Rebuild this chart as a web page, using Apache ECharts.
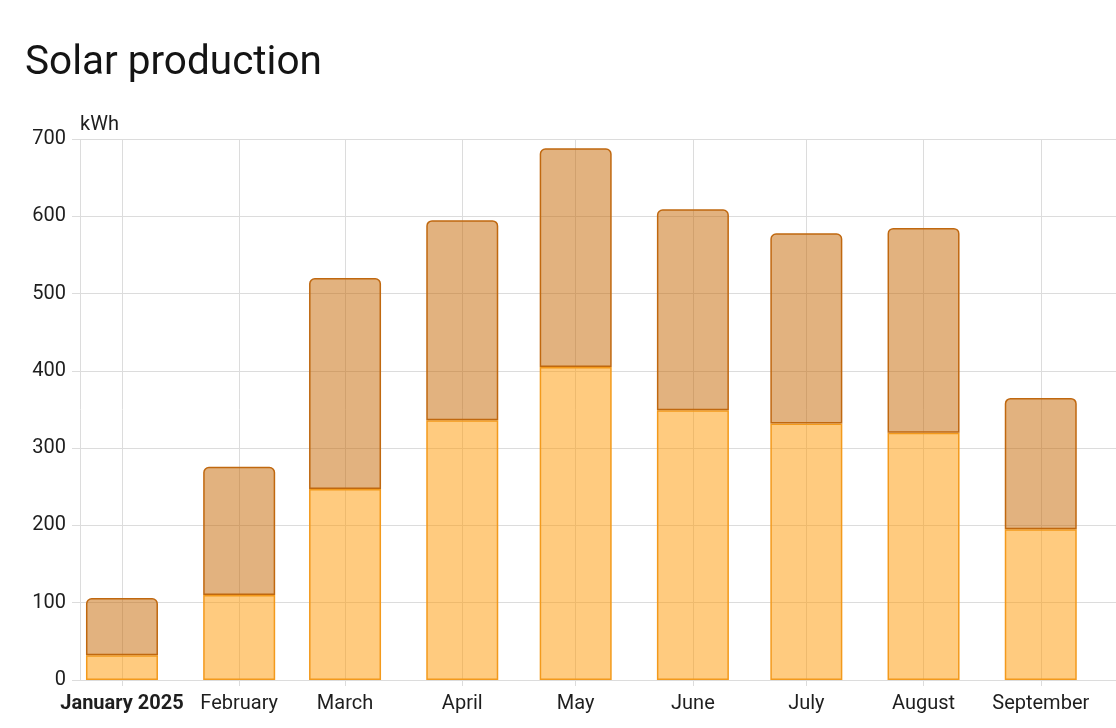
<!DOCTYPE html>
<html>
<head>
<meta charset="utf-8">
<script src="https://cdn.jsdelivr.net/npm/echarts@6/dist/echarts.min.js"></script>
<style>
html,body{margin:0;padding:0;background:#fff;}
#chart{width:1116px;height:728px;}
</style>
</head>
<body>
<div id="chart"></div>
<script>
// Data
const months = [
  [2025, 0], [2025, 1], [2025, 2], [2025, 3], [2025, 4],
  [2025, 5], [2025, 6], [2025, 7], [2025, 8]
];
const monthNames = ['January','February','March','April','May','June','July','August','September','October','November','December'];
const selfConsumed = [32, 110, 247, 336, 405, 349, 332, 320, 195];
const returned = [74, 166, 273, 259, 283, 260, 246, 265, 170];
const yTicks = { min: 0, max: 700, interval: 100 };
const unitName = 'kWh';
const titleText = 'Solar production';

const DAY = 86400000;
const xs = months.map(m => new Date(m[0], m[1], 1).getTime());
// desired visible range; ECharts widens a time axis carrying bars by the bar width,
// so the requested range is narrowed accordingly
const BAR_W = 72, GRID_W = 1036;
const wantMin = xs[0] - 11.1 * DAY;
const wantRange = 274 * DAY;
const reqRange = wantRange * (1 - BAR_W / GRID_W);
const xMin = wantMin + (wantRange - reqRange) / 2;
const xMax = xMin + reqRange;

const chart = echarts.init(document.getElementById('chart'), null, {renderer: 'canvas'});
const font = 'Roboto';
const txt = '#1e1e1e';
const gridCol = '#dcdcdc';
chart.setOption({
  animation: false,
  textStyle: { fontFamily: font },
  title: {
    text: titleText,
    left: 20, top: 38,
    textStyle: { fontFamily: font, fontSize: 40.5, fontWeight: 'normal', color: '#141414' }
  },
  grid: { left: 80, right: 0, top: 139, bottom: 48, containLabel: false, outerBoundsMode: 'none' },
  xAxis: {
    type: 'time',
    min: xMin, max: xMax,
    minInterval: 28 * DAY, maxInterval: 31 * DAY,
    axisLine: { show: true, lineStyle: { color: gridCol, width: 1 } },
    axisTick: { show: true, length: 6, lineStyle: { color: gridCol } },
    splitLine: { show: true, lineStyle: { color: gridCol, width: 1 } },
    axisLabel: {
      showMinLabel: false, showMaxLabel: false,
      margin: 14,
      fontSize: 20, color: txt, fontFamily: font,
      formatter: function (v) {
        const d = new Date(v);
        if (d.getDate() !== 1) return '';
        if (d.getMonth() === 0) return '{b|' + monthNames[0] + ' ' + d.getFullYear() + '}';
        return monthNames[d.getMonth()];
      },
      rich: { b: { fontWeight: 'bold', fontSize: 20, color: txt, fontFamily: font } }
    }
  },
  yAxis: {
    type: 'value',
    min: yTicks.min, max: yTicks.max, interval: yTicks.interval,
    name: unitName,
    nameLocation: 'end',
    nameGap: 4,
    nameTextStyle: { fontSize: 20, color: txt, fontFamily: font, align: 'left', padding: [0, 0, 0, 0] },
    axisLine: { show: false },
    axisTick: { show: true, length: 8, lineStyle: { color: gridCol } },
    axisLabel: { fontSize: 20, color: txt, fontFamily: font, margin: 14 },
    splitLine: { show: true, lineStyle: { color: gridCol, width: 1 } }
  },
  series: [
    {
      name: 'Self-consumed',
      type: 'bar',
      stack: 'solar',
      barWidth: BAR_W,
      data: xs.map((x, i) => [x, selfConsumed[i]]),
      itemStyle: { color: 'rgba(255,152,0,0.5)', borderColor: '#f39a1c', borderWidth: 1.5 }
    },
    {
      name: 'Returned',
      type: 'bar',
      stack: 'solar',
      barWidth: BAR_W,
      data: xs.map((x, i) => [x, returned[i]]),
      itemStyle: { color: 'rgba(197,101,0,0.5)', borderColor: '#c0680f', borderWidth: 1.5, borderRadius: [5, 5, 0, 0] }
    }
  ]
});
</script>
</body>
</html>
